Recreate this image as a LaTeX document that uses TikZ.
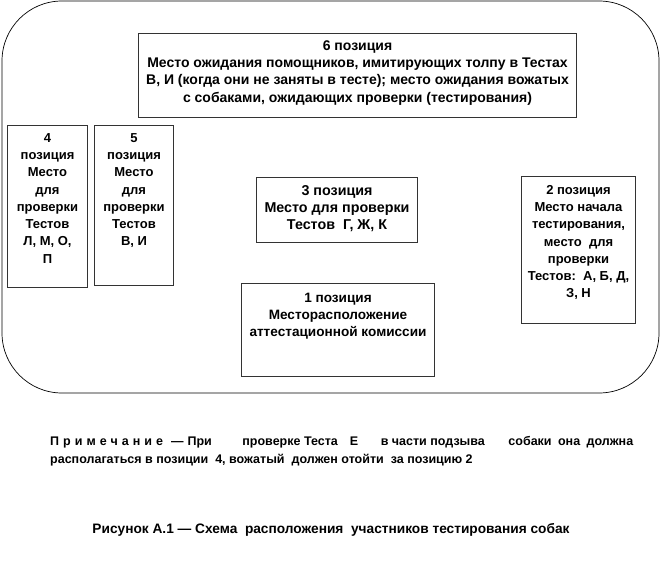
\documentclass[tikz,border=0pt]{standalone}
\usepackage{fontspec}
\setmainfont{Liberation Sans}
\newcommand{\gapsp}[1]{\hspace{3pt plus #1fil}}
\begin{document}
\begin{tikzpicture}[x=1pt,y=-1pt,
  posbox/.style={draw=black!80,line width=1pt,fill=white,inner sep=0pt,anchor=north west,font=\bfseries\fontsize{13}{17.3}\selectfont},
  outer/.style={draw=black,line width=0.7pt,rounded corners=60pt}]
\useasboundingbox (0,0) rectangle (660,577);
\draw[outer] (2,1) rectangle (659,393);
\node[posbox,font=\bfseries\fontsize{14}{17.3}\selectfont] (p6) at (138,33) {\parbox[c][84pt][t]{438pt}{\centering\vspace*{4.5pt}\strut 6 позиция\\ Место ожидания помощников, имитирующих толпу в Тестах\\ В, И (когда они не заняты в тесте); место ожидания вожатых\\ с собаками, ожидающих проверки (тестирования)}};
\node[posbox] (p4) at (7,125) {\parbox[c][162pt][t]{80pt}{\centering\vspace*{4.5pt}\strut 4\\ позиция\\ Место\\ для\\ проверки\\ Тестов\\ Л, М, О,\\ П}};
\node[posbox] (p5) at (94,125) {\parbox[c][160pt][t]{79pt}{\centering\vspace*{4.5pt}\strut 5\\ позиция\\ Место\\ для\\ проверки\\ Тестов\\ В, И}};
\node[posbox,font=\bfseries\fontsize{14.3}{17.3}\selectfont] (p3) at (256,177) {\parbox[c][65pt][t]{161pt}{\centering\vspace*{5.5pt}\strut 3 позиция\\ Место для проверки\\ Тестов\ \ Г, Ж, К}};
\node[posbox,font=\bfseries\fontsize{13.6}{17.3}\selectfont] (p1) at (241,283) {\parbox[c][93pt][t]{193pt}{\centering\vspace*{6.5pt}\strut 1 позиция\\ Месторасположение\\ аттестационной комиссии}};
\node[posbox] (p2) at (521,176) {\parbox[c][147pt][t]{114pt}{\centering\vspace*{5.5pt}\strut 2 позиция\\ Место начала\\ тестирования,\\ место\ \ для\\ проверки\\ Тестов:\ \ А, Б, Д,\\ З, Н}};
\node[anchor=north west,inner sep=0pt,align=left,font=\bfseries\fontsize{12.5}{18}\selectfont] (note) at (50,436)
  {\makebox[583pt][s]{П\hspace{4pt}р\hspace{4pt}и\hspace{4pt}м\hspace{4pt}е\hspace{4pt}ч\hspace{4pt}а\hspace{4pt}н\hspace{4pt}и\hspace{4pt}е\hspace{8pt}—\hspace{4pt}При\gapsp{24}проверке Теста\gapsp{8}Е\gapsp{17}в части подзыва\gapsp{18}собаки\gapsp{3}она\gapsp{3}должна}\\
   располагаться в позиции \ 4, вожатый \ должен отойти \ за позицию 2};
\node[inner sep=0pt,font=\bfseries\fontsize{13.7}{16}\selectfont] (caption) at (331,530) {Рисунок А.1 — Схема \ расположения \ участников тестирования собак};
\end{tikzpicture}
\end{document}
